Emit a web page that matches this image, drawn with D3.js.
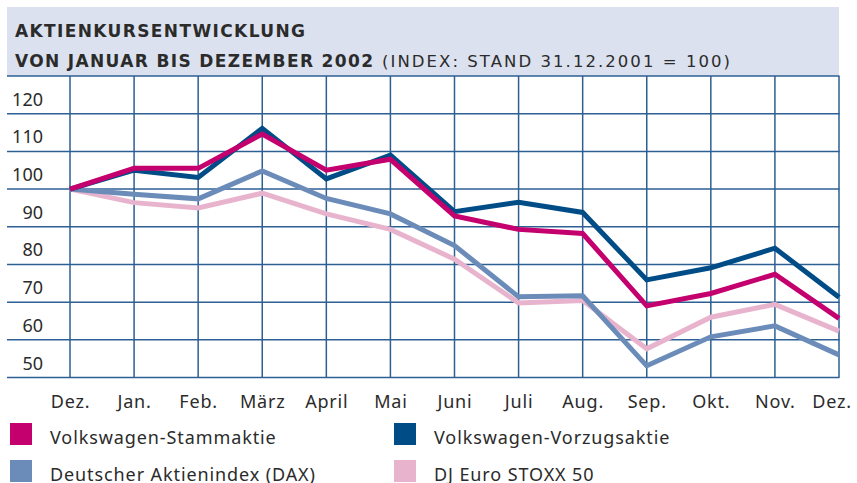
<!DOCTYPE html>
<html>
<head>
<meta charset="utf-8">
<script src="https://cdn.jsdelivr.net/npm/d3@7.9.0/dist/d3.min.js"></script>
<style>
  html, body { margin: 0; padding: 0; background: #fff; }
  svg { display: block; }
  text { font-family: "Noto Sans", "Open Sans", sans-serif; fill: #2b2b2b; }
</style>
</head>
<body>
<svg id="chart" width="857" height="483"></svg>
<script>
// months (Dez. 2001 .. Dez. 2002)
const months = ['Dez.', 'Jan.', 'Feb.', 'März', 'April', 'Mai', 'Juni', 'Juli', 'Aug.', 'Sep.', 'Okt.', 'Nov.', 'Dez.'];

// index values, 31.12.2001 = 100
const vwStamm = [100, 105.5, 105.5, 114.6, 105, 107.9, 92.9, 89.3, 88.2, 69, 72.3, 77.4, 65.7];
const vwVorzug = [100, 105, 103.1, 116.1, 102.7, 109, 94, 96.5, 93.8, 75.9, 79.1, 84.3, 71.3];
const dax = [100, 98.6, 97.4, 104.8, 97.5, 93.4, 85, 71.4, 71.7, 53.1, 60.8, 63.7, 56];
const stoxx = [100, 96.4, 95, 98.9, 93.4, 89.3, 81.4, 69.8, 70.4, 57.6, 66, 69.4, 62.3];

const yTicks = [50, 60, 70, 80, 90, 100, 110, 120];
const seriesNames = ['Volkswagen-Stammaktie', 'Volkswagen-Vorzugsaktie', 'Deutscher Aktienindex (DAX)', 'DJ Euro STOXX 50'];
const seriesColors = ['#c4006e', '#004c87', '#6b8cb9', '#e8b4cd'];

const svg = d3.select('#chart');

// header band
svg.append('rect')
  .attr('x', 7).attr('y', 7).attr('width', 832).attr('height', 69)
  .attr('fill', '#dbe1ee');

const titleFont = '"DejaVu Sans", Verdana, sans-serif';

svg.append('text')
  .style('font-family', titleFont)
  .attr('x', 15).attr('y', 36.5)
  .attr('font-size', 17).attr('font-weight', 'bold')
  .attr('textLength', 290).attr('lengthAdjust', 'spacing')
  .text('AKTIENKURSENTWICKLUNG');

svg.append('text')
  .style('font-family', titleFont)
  .attr('x', 15).attr('y', 67)
  .attr('font-size', 17).attr('font-weight', 'bold')
  .attr('textLength', 358).attr('lengthAdjust', 'spacing')
  .text('VON JANUAR BIS DEZEMBER 2002');

svg.append('text')
  .style('font-family', titleFont)
  .attr('x', 382).attr('y', 67)
  .attr('font-size', 16.5)
  .attr('textLength', 348).attr('lengthAdjust', 'spacing')
  .text('(INDEX: STAND 31.12.2001 = 100)');

// scales
const x = d3.scalePoint().domain(d3.range(months.length)).range([70, 839]);
const y = d3.scaleLinear().domain([50, 130]).range([377.5, 76]);

// grid
const grid = svg.append('g').attr('stroke', '#2d5f93').attr('stroke-width', 1.5);
grid.selectAll('line.h')
  .data(d3.range(50, 131, 10))
  .join('line')
  .attr('class', 'h')
  .attr('x1', 7).attr('x2', 839.5)
  .attr('y1', d => y(d)).attr('y2', d => y(d));
grid.selectAll('line.v')
  .data(d3.range(months.length))
  .join('line')
  .attr('class', 'v')
  .attr('x1', d => x(d)).attr('x2', d => x(d))
  .attr('y1', y(130)).attr('y2', y(50));

// y labels sit just above their gridline
svg.append('g').selectAll('text')
  .data(yTicks)
  .join('text')
  .attr('x', 43).attr('y', d => y(d) - 8)
  .attr('text-anchor', 'end').attr('font-size', 18)
  .text(d => d);

// x labels
svg.append('g').selectAll('text')
  .data(months)
  .join('text')
  .attr('x', (d, i) => i === months.length - 1 ? x(i) - 7 : x(i) + 0.5)
  .attr('y', 408)
  .attr('text-anchor', 'middle').attr('font-size', 18).attr('letter-spacing', 0.8)
  .text(d => d);

// lines, drawn back to front
const line = d3.line().x((d, i) => x(i)).y(d => y(d));
const allSeries = [vwStamm, vwVorzug, dax, stoxx];
[3, 2, 1, 0].forEach(idx => {
  svg.append('path')
    .attr('d', line(allSeries[idx]))
    .attr('fill', 'none')
    .attr('stroke', seriesColors[idx])
    .attr('stroke-width', 5)
    .attr('stroke-linejoin', 'miter');
});

// legend
const legend = svg.append('g');
seriesNames.forEach((name, i) => {
  let lx = i % 2 === 0 ? 10 : 394;
  let ly = i < 2 ? 423 : 460;
  legend.append('rect')
    .attr('x', lx).attr('y', ly).attr('width', 22).attr('height', 22)
    .attr('fill', seriesColors[i]);
  legend.append('text')
    .attr('x', lx + 40).attr('y', ly + 21)
    .attr('font-size', 18).attr('letter-spacing', 0.9)
    .text(name);
});
</script>
</body>
</html>
